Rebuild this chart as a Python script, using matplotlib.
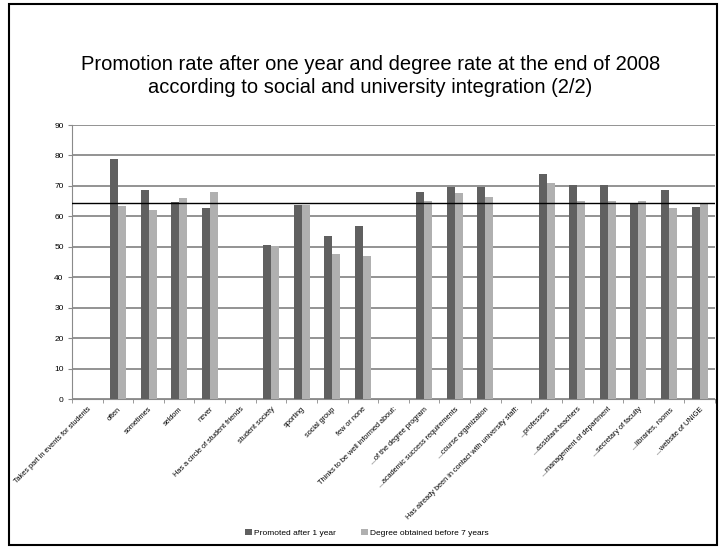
import matplotlib.pyplot as plt
import numpy as np
from matplotlib.patches import Rectangle

plt.rcParams['font.family'] = ['Liberation Sans', 'DejaVu Sans']

categories = [
    "Takes part in events for students", "often", "sometimes", "seldom", "never",
    "Has a circle of student friends", "student society", "sporting", "social group",
    "few or none", "Thinks to be well informed about:", "...of the degree program",
    "...academic success requirements", "...course organization",
    "Has already been in contact with university staff:", "...professors",
    "...assistant teachers", "...management of department", "...secretary of faculty",
    "...libraries, rooms", "...website of UNIGE",
]
promoted = [np.nan, 78.9, 68.5, 64.8, 62.7, np.nan, 50.7, 63.7, 53.4, 56.7,
            np.nan, 68.0, 69.7, 69.7, np.nan, 74.0, 70.3, 70.3, 64.3, 68.5, 63.2]
degree = [np.nan, 63.3, 62.2, 65.9, 68.0, np.nan, 50.3, 63.7, 47.5, 46.9,
          np.nan, 65.2, 67.5, 66.4, np.nan, 70.8, 65.2, 65.2, 65.2, 62.6, 64.3]
overall_rate = 64.3

fig = plt.figure(figsize=(7.22, 5.48), dpi=100)
ax = fig.add_axes([72 / 722, 1 - 399 / 548, (715 - 72) / 722, 274 / 548])

x = np.arange(len(categories))
w = 0.26
ax.bar(x - w / 2, promoted, width=w, color='#606060', label='Promoted after 1 year', zorder=3)
ax.bar(x + w / 2, degree, width=w, color='#b0b0b0', label='Degree obtained before 7 years', zorder=3)
ax.axhline(overall_rate, color='black', lw=1, zorder=4)

ax.set_xlim(-0.5, len(categories) - 0.5)
ax.set_ylim(0, 90)
ax.set_yticks(range(0, 91, 10))
ax.yaxis.grid(True, color='#8a8a8a', lw=1.3, zorder=0)
ax.tick_params(axis='y', labelsize=6, length=3, color='#8a8a8a', pad=3)

ax.set_xticks(x)
ax.set_xticklabels(categories, rotation=45, ha='right', rotation_mode='anchor', fontsize=5.3)
ax.tick_params(axis='x', which='major', length=0, pad=5)
ax.set_xticks(np.arange(-0.5, len(categories)), minor=True)
ax.tick_params(axis='x', which='minor', length=3, color='#8a8a8a')

for s in ['top', 'right']:
    ax.spines[s].set_visible(False)
for s in ['left', 'bottom']:
    ax.spines[s].set_color('#8a8a8a')

fig.text(0.513, 1 - 76 / 548,
         "Promotion rate after one year and degree rate at the end of 2008\n"
         "according to social and university integration (2/2)",
         ha='center', va='center', fontsize=14.5, linespacing=1.3)

fig.legend(loc='center', bbox_to_anchor=(367 / 722, 1 - 533 / 548), ncol=2, frameon=False,
           fontsize=6, handlelength=0.8, handleheight=0.8, handletextpad=0.3, columnspacing=3)

fig.patches.append(Rectangle((9 / 722, 3 / 548), 708 / 722, 541 / 548, transform=fig.transFigure,
                             fill=False, edgecolor='black', lw=1.5))

fig.savefig('out.png', dpi=100)
